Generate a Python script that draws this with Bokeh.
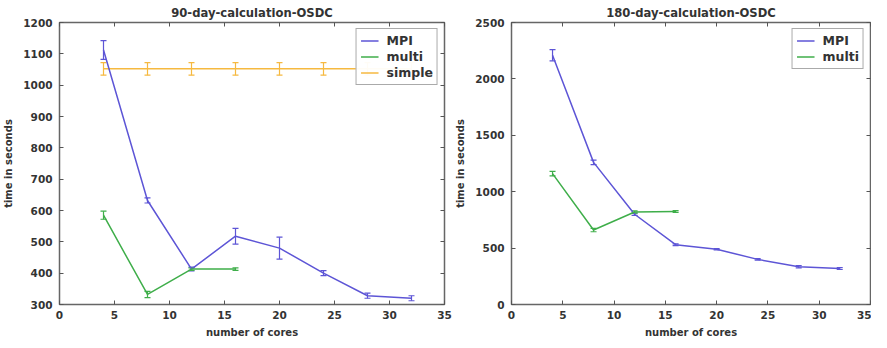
from bokeh.plotting import figure
from bokeh.layouts import row
from bokeh.models import (ColumnDataSource, Whisker, TeeHead, LinearAxis, Range1d,
                          FixedTicker, Legend, LegendItem)
from bokeh.embed import file_html
from bokeh.resources import INLINE

# ---- data: 90-day ----
cores = [4, 8, 12, 16, 20, 24, 28, 32]
mpi90 = [1112, 632, 413, 518, 480, 400, 328, 320]
mpi90_err = [30, 8, 6, 25, 35, 8, 8, 8]
multi_cores = [4, 8, 12, 16]
multi90 = [585, 332, 413, 413]
multi90_err = [13, 10, 4, 4]
simple90 = [1052, 1052, 1052, 1052, 1052, 1052, 1052, 1052]
simple90_err = [20, 20, 20, 20, 20, 20, 20, 20]

# ---- data: 180-day ----
mpi180 = [2210, 1260, 800, 530, 490, 400, 335, 320]
mpi180_err = [50, 20, 10, 8, 6, 6, 10, 8]
multi180 = [1160, 660, 820, 825]
multi180_err = [20, 15, 10, 8]

x_ticks = [0, 5, 10, 15, 20, 25, 30, 35]
y_ticks90 = [300, 400, 500, 600, 700, 800, 900, 1000, 1100, 1200]
y_ticks180 = [0, 500, 1000, 1500, 2000, 2500]

C_MPI = "#5d55d6"
C_MULTI = "#3fae4a"
C_SIMPLE = "#f6b940"
FONT = "DejaVu Sans"


def style_axis(ax, ticks, labels=True):
    ax.ticker = FixedTicker(ticks=ticks)
    ax.major_tick_in = 4
    ax.major_tick_out = 0
    ax.minor_tick_in = 0
    ax.minor_tick_out = 0
    ax.axis_line_color = None
    ax.major_tick_line_color = "#555555"
    ax.major_label_text_font = FONT
    ax.major_label_text_font_size = "10.5px"
    ax.major_label_text_font_style = "bold"
    ax.major_label_text_color = "#333333"
    ax.axis_label_text_font = FONT
    ax.axis_label_text_font_size = "10px"
    ax.axis_label_text_font_style = "bold"
    ax.axis_label_text_color = "#333333"
    if not labels:
        ax.major_label_overrides = {t: "" for t in ticks}
        ax.major_label_standoff = 0


def make_fig(title, width, ylim, yticks, bl, br):
    p = figure(width=width, height=340, output_backend="svg", toolbar_location=None,
               x_range=Range1d(0, 35), y_range=Range1d(*ylim),
               min_border_left=bl, min_border_right=br, min_border_top=22,
               min_border_bottom=30)
    p.title.text = title
    p.title.text_font = FONT
    p.title.text_font_size = "11.6px"
    p.title.text_font_style = "bold"
    p.title.text_color = "#333333"
    p.title.align = "center"
    p.title.standoff = 6
    p.grid.visible = False
    p.outline_line_color = "#666666"
    p.outline_line_width = 1.5
    p.xaxis.axis_label = "number of cores"
    p.yaxis.axis_label = "time in seconds"
    p.xaxis.axis_label_standoff = 5
    p.yaxis.axis_label_standoff = 6
    p.xaxis.major_label_standoff = 6
    p.yaxis.major_label_standoff = 7
    style_axis(p.xaxis[0], x_ticks)
    style_axis(p.yaxis[0], yticks)
    top = LinearAxis()
    right = LinearAxis()
    style_axis(top, x_ticks, labels=False)
    style_axis(right, yticks, labels=False)
    p.add_layout(top, "above")
    p.add_layout(right, "right")
    return p


def series(p, xs, ys, errs, color):
    src = ColumnDataSource(dict(x=xs, y=ys,
                                lo=[a - b for a, b in zip(ys, errs)],
                                hi=[a + b for a, b in zip(ys, errs)]))
    r = p.line("x", "y", source=src, line_color=color, line_width=1.5)
    w = Whisker(source=src, base="x", lower="lo", upper="hi", line_color=color,
                line_width=1.2,
                upper_head=TeeHead(size=6, line_color=color, line_width=1.2),
                lower_head=TeeHead(size=6, line_color=color, line_width=1.2))
    p.add_layout(w)
    return r


def add_legend(p, items):
    leg = Legend(items=[LegendItem(label=l, renderers=[r]) for l, r in items],
                 location="top_right")
    leg.label_text_font = FONT
    leg.label_text_font_size = "12.5px"
    leg.label_text_font_style = "bold"
    leg.label_text_color = "#333333"
    leg.border_line_color = "#555555"
    leg.border_line_width = 1.5
    leg.glyph_width = 18
    leg.glyph_height = 15
    leg.label_height = 15
    leg.label_standoff = 8
    leg.spacing = 1
    leg.padding = 4
    leg.margin = 6
    p.add_layout(leg, "center")


p1 = make_fig("90-day-calculation-OSDC", 452, (300, 1200), y_ticks90, 48, 8)
r_s = series(p1, cores, simple90, simple90_err, C_SIMPLE)
r_m = series(p1, cores, mpi90, mpi90_err, C_MPI)
r_mu = series(p1, multi_cores, multi90, multi90_err, C_MULTI)
add_legend(p1, [("MPI", r_m), ("multi", r_mu), ("simple", r_s)])

p2 = make_fig("180-day-calculation-OSDC", 419, (0, 2500), y_ticks180, 53, 1)
r_m2 = series(p2, cores, mpi180, mpi180_err, C_MPI)
r_mu2 = series(p2, multi_cores, multi180, multi180_err, C_MULTI)
add_legend(p2, [("MPI", r_m2), ("multi", r_mu2)])

layout = row(p1, p2)
open("out.html", "w").write(file_html(layout, INLINE))
